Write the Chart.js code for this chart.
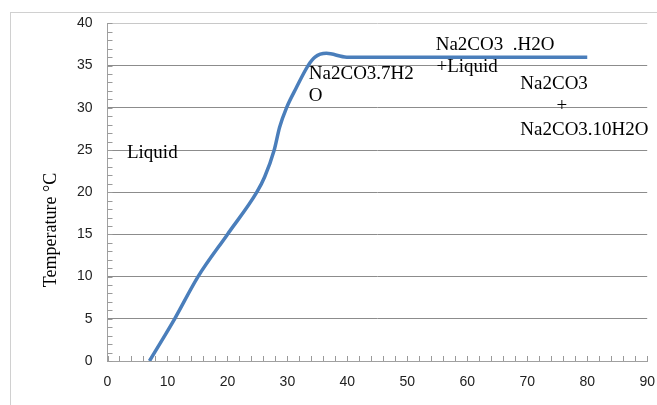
<!DOCTYPE html>
<html>
<head>
<meta charset="utf-8">
<script src="https://cdn.jsdelivr.net/npm/chart.js@4"></script>
<style>
  html, body { margin: 0; padding: 0; background: #fff; overflow: hidden; }
  #wrap { position: relative; width: 657px; height: 405px; }
  canvas { display: block; }
</style>
</head>
<body>
<div id="wrap"><canvas id="myChart"></canvas></div>
<script>
// curve
const tempX = [7, 9.2, 11.2, 15.1, 20, 24.9, 26.2, 27.8, 28.7, 29.85, 31.5, 33.45, 34.6, 36.5, 39.9, 50, 60, 70, 80];
const tempY = [0, 2.6, 5, 10, 15, 20, 21.8, 25, 27.7, 30, 32.4, 35, 36, 36.45, 36, 36, 36, 36, 36];

// text notes inside the plot (data units)
const noteText = ["Liquid", "Na2CO3.7H2", "O", "Na2CO3  .H2O", "+Liquid", "Na2CO3", "+", "Na2CO3.10H2O"];
const noteX = [3.25, 33.57, 33.57, 54.73, 54.85, 68.84, 75.77, 68.84];
const noteY = [24.08, 33.43, 30.86, 36.86, 34.2, 32.24, 29.68, 26.72];
const noteAlign = ["left", "left", "left", "left", "left", "left", "center", "left"];

const yTitle = "Temperature °C";

const points = tempX.map((x, i) => ({ x: x, y: tempY[i] }));

// frame, minor ticks, notes, axis title
const extras = {
    id: "extras",
    beforeDraw(chart) {
        const ctx = chart.ctx;
        ctx.save();
        ctx.strokeStyle = "#d0d0d0";
        ctx.lineWidth = 1;
        ctx.strokeRect(10.5, 12.5, 800, 600);
        ctx.restore();
    },
    beforeDatasetsDraw(chart) {
        const ctx = chart.ctx;
        const xs = chart.scales.x, ys = chart.scales.y;
        ctx.save();
        ctx.strokeStyle = "#9a9a9a";
        ctx.lineWidth = 1;
        ctx.beginPath();
        for (let v = 0; v <= 40; v++) {
            const py = Math.round(ys.getPixelForValue(v)) + 0.5;
            ctx.moveTo(xs.left, py);
            ctx.lineTo(xs.left + 5, py);
        }
        for (let v = 0; v <= 90; v += 2) {
            const px = Math.round(xs.getPixelForValue(v)) + 0.5;
            ctx.moveTo(px, ys.bottom);
            ctx.lineTo(px, ys.bottom - 5);
        }
        ctx.stroke();
        ctx.restore();
    },
    afterDatasetsDraw(chart) {
        const ctx = chart.ctx;
        const xs = chart.scales.x, ys = chart.scales.y;
        ctx.save();
        ctx.fillStyle = "#000";
        ctx.font = '19px "Liberation Serif"';
        ctx.textBaseline = "alphabetic";
        noteText.forEach((t, i) => {
            ctx.textAlign = noteAlign[i];
            ctx.fillText(t, xs.getPixelForValue(noteX[i]), ys.getPixelForValue(noteY[i]));
        });
        ctx.translate(51, 230);
        ctx.rotate(-Math.PI / 2);
        ctx.font = '18px "Liberation Serif"';
        ctx.textAlign = "center";
        ctx.textBaseline = "middle";
        ctx.fillText(yTitle, 0, 0);
        ctx.restore();
    }
};

const data = {
    datasets: [
        {
            label: "Temperature",
            data: points,
            borderColor: "#4a7ebb",
            backgroundColor: "#4a7ebb",
            borderWidth: 3.5,
            pointRadius: 0,
            showLine: true,
            cubicInterpolationMode: "monotone",
        },
    ],
};

const config = {
    type: "scatter",
    data: data,
    options: {
        responsive: true,
        maintainAspectRatio: false,
        animation: false,
        layout: { padding: { left: 0, top: 22.7, right: 9.3, bottom: 0 } },
        plugins: { legend: { display: false }, tooltip: { enabled: false } },
        scales: {
            x: {
                type: "linear",
                min: 0,
                max: 90,
                afterFit: (s) => { s.height = 44; },
                ticks: {
                    stepSize: 10,
                    padding: 2,
                    color: "#222",
                    font: { family: '"Liberation Sans"', size: 14 },
                },
                grid: { display: true, color: "rgba(0,0,0,0)", drawTicks: true, tickLength: 11 },
                border: { display: true, color: "#a0a0a0" },
            },
            y: {
                min: 0,
                max: 40,
                afterFit: (s) => { s.width = 107.5; },
                ticks: {
                    stepSize: 5,
                    padding: 15,
                    color: "#222",
                    font: { family: '"Liberation Sans"', size: 14 },
                },
                grid: {
                    drawTicks: false,
                    color: (c) => (c.tick && c.tick.value === 40 ? "#c8c8c8" : "#8c8c8c"),
                },
                border: { display: true, color: "#a0a0a0" },
            },
        },
    },
    plugins: [extras],
};

const myChart = new Chart(document.getElementById("myChart"), config);
</script>
</body>
</html>
